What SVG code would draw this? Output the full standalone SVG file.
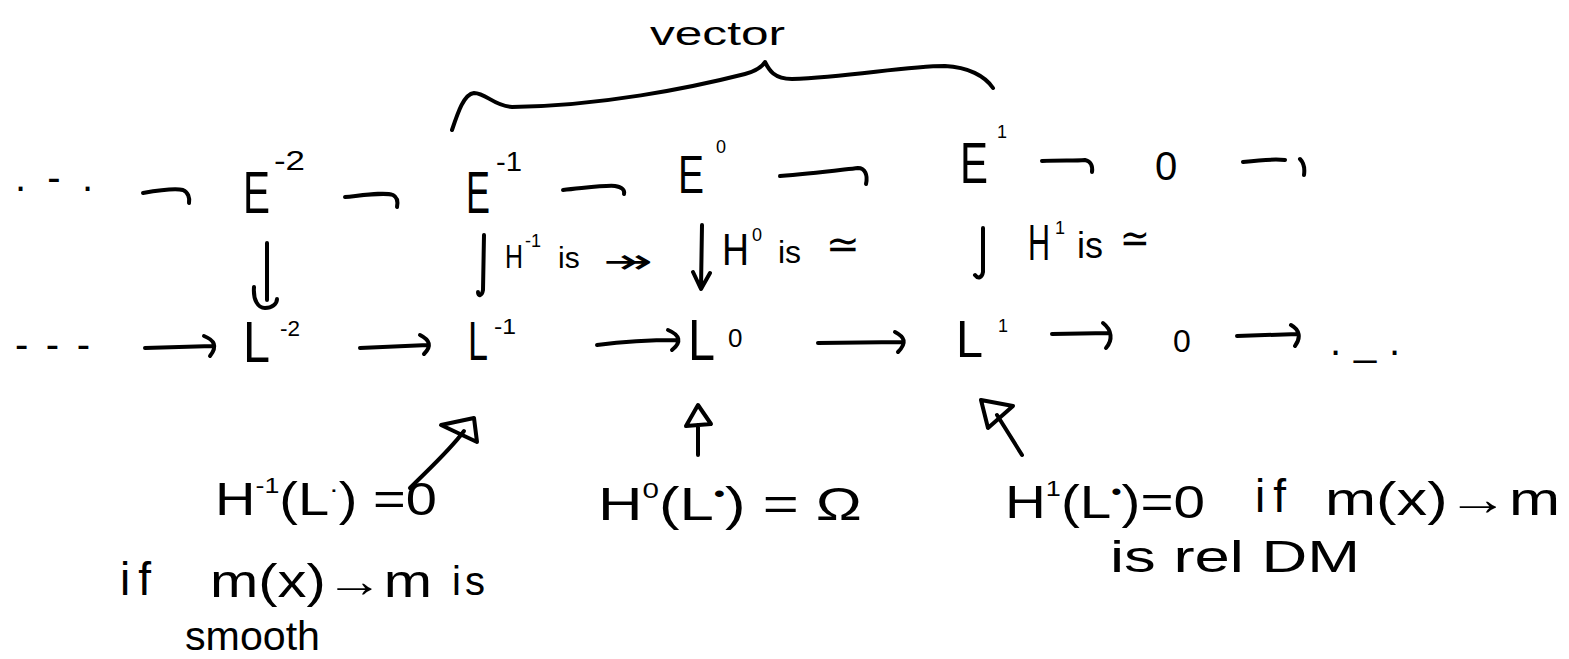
<svg xmlns="http://www.w3.org/2000/svg" width="1569" height="659" viewBox="0 0 1569 659">
<style>
.t{font-family:"Liberation Sans","DejaVu Sans",sans-serif;fill:#000}
.m{font-family:"DejaVu Sans","Liberation Sans",sans-serif;fill:#000}
.s{fill:none;stroke:#000;stroke-width:4;stroke-linecap:round;stroke-linejoin:round}
</style>
<rect width="1569" height="659" fill="#fff"/>
<g id="brace">
<text class="t" x="650" y="45" font-size="34" textLength="135" lengthAdjust="spacingAndGlyphs">vector</text>
<path class="s" d="M452 130 C458 112 464 94 474 93 C486 93 494 106 512 107 C600 106 690 88 745 74 C756 71 762 67 765 62 C769 70 774 79 792 79 C850 77 905 66 945 66 C968 67 985 76 993 88"/>
</g>
<g id="Edots"><text class="t" x="15" y="191" font-size="40" textLength="78" lengthAdjust="spacing">. - .</text></g>
<g id="Em2"><text class="t" x="243" y="213" font-size="60" textLength="27" lengthAdjust="spacingAndGlyphs">E</text><text class="t" x="274" y="170" font-size="28" textLength="31" lengthAdjust="spacingAndGlyphs">-2</text></g>
<g id="Em1"><text class="t" x="466" y="213" font-size="60" textLength="24" lengthAdjust="spacingAndGlyphs">E</text><text class="t" x="496" y="171" font-size="28" textLength="26" lengthAdjust="spacingAndGlyphs">-1</text></g>
<g id="E0"><text class="t" x="678" y="193" font-size="54" textLength="26" lengthAdjust="spacingAndGlyphs">E</text><text class="t" x="716" y="153" font-size="18">0</text></g>
<g id="E1"><text class="t" x="960" y="183" font-size="58" textLength="28" lengthAdjust="spacingAndGlyphs">E</text><text class="t" x="997" y="138" font-size="18">1</text></g>
<g id="Ezero"><text class="t" x="1155" y="180" font-size="40">0</text></g>
<g id="Ldots"><text class="t" x="15" y="358" font-size="40" textLength="75" lengthAdjust="spacing">- - -</text></g>
<g id="Lm2"><text class="t" x="243" y="362" font-size="58" textLength="27" lengthAdjust="spacingAndGlyphs">L</text><text class="t" x="280" y="336" font-size="22" textLength="20" lengthAdjust="spacingAndGlyphs">-2</text></g>
<g id="Lm1"><text class="t" x="468" y="360" font-size="56" textLength="20" lengthAdjust="spacingAndGlyphs">L</text><text class="t" x="494" y="334" font-size="22" textLength="22" lengthAdjust="spacingAndGlyphs">-1</text></g>
<g id="L0"><text class="t" x="688" y="360" font-size="58" textLength="27" lengthAdjust="spacingAndGlyphs">L</text><text class="t" x="728" y="347" font-size="26">0</text></g>
<g id="L1"><text class="t" x="956" y="357" font-size="52" textLength="27" lengthAdjust="spacingAndGlyphs">L</text><text class="t" x="998" y="332" font-size="18">1</text></g>
<g id="Lzero"><text class="t" x="1173" y="352" font-size="32">0</text></g>
<g id="Lend"><text class="t" x="1330" y="355" font-size="40" textLength="70" lengthAdjust="spacing">. _ .</text></g>
<g id="labels">
<text class="t" x="505" y="268" font-size="34" textLength="18" lengthAdjust="spacingAndGlyphs">H</text>
<text class="t" x="525" y="247" font-size="18">-1</text>
<text class="t" x="558" y="268" font-size="30">is</text>
<text class="m" x="603" y="273" font-size="34" textLength="50" lengthAdjust="spacingAndGlyphs">↠</text>
<text class="t" x="722" y="265" font-size="44" textLength="27" lengthAdjust="spacingAndGlyphs">H</text>
<text class="t" x="752" y="241" font-size="18">0</text>
<text class="t" x="778" y="263" font-size="32">is</text>
<text class="m" x="826" y="258" font-size="40" textLength="34" lengthAdjust="spacingAndGlyphs">≃</text>
<text class="t" x="1028" y="260" font-size="50" textLength="22" lengthAdjust="spacingAndGlyphs">H</text>
<text class="t" x="1055" y="234" font-size="18">1</text>
<text class="t" x="1077" y="258" font-size="36">is</text>
<text class="m" x="1120" y="252" font-size="40" textLength="30" lengthAdjust="spacingAndGlyphs">≃</text>
</g>
<g id="note-left">
<text class="t" x="215" y="515" font-size="46" textLength="222" lengthAdjust="spacingAndGlyphs">H<tspan font-size="22" dy="-22">-1</tspan><tspan dy="22">(L</tspan><tspan font-size="24" dy="-18">·</tspan><tspan dy="18">) =0</tspan></text>
<text class="t" x="120" y="595" font-size="46" letter-spacing="8">if</text>
<text class="t" x="210" y="597" font-size="46" textLength="222" lengthAdjust="spacingAndGlyphs">m(x)→m</text>
<text class="t" x="452" y="595" font-size="40" letter-spacing="4">is</text>
<text class="t" x="185" y="650" font-size="40" textLength="135" lengthAdjust="spacingAndGlyphs">smooth</text>
</g>
<g id="note-mid">
<text class="t" x="598" y="520" font-size="46" textLength="264" lengthAdjust="spacingAndGlyphs">H<tspan font-size="22" dy="-22">0</tspan><tspan dy="22">(L</tspan><tspan font-size="24" dy="-18">•</tspan><tspan dy="18">) = Ω</tspan></text>
</g>
<g id="note-right">
<text class="t" x="1005" y="518" font-size="46" textLength="200" lengthAdjust="spacingAndGlyphs">H<tspan font-size="22" dy="-22">1</tspan><tspan dy="22">(L</tspan><tspan font-size="24" dy="-18">•</tspan><tspan dy="18">)=0</tspan></text>
<text class="t" x="1255" y="512" font-size="46" letter-spacing="8">if</text>
<text class="t" x="1325" y="515" font-size="46" textLength="235" lengthAdjust="spacingAndGlyphs">m(x)→m</text>
<text class="t" x="1110" y="572" font-size="44" textLength="250" lengthAdjust="spacingAndGlyphs">is rel DM</text>
</g>
<g id="connectors">
<path class="s" d="M143 193 C160 190 175 188 183 190 C188 192 190 198 189 203"/>
<path class="s" d="M345 197 C365 195 385 192 393 195 C397 197 398 202 397 207"/>
<path class="s" d="M563 190 C585 188 605 185 615 186 C622 187 625 190 624 194"/>
<path class="s" d="M780 176 C810 174 840 170 858 168 C865 168 868 175 866 184"/>
<path class="s" d="M1042 161 C1060 160 1075 161 1085 160 C1090 161 1093 165 1092 172"/>
<path class="s" d="M1243 162 C1260 160 1275 159 1285 160 M1300 159 C1304 163 1305 168 1304 175"/>
<path class="s" d="M145 348 L213 346 M204 336 C214 340 218 346 210 356"/>
<path class="s" d="M360 348 L428 345 M420 335 C430 340 432 346 424 354"/>
<path class="s" d="M597 345 C620 342 650 340 677 340 M668 330 C680 335 682 342 672 350"/>
<path class="s" d="M818 343 L903 342 M895 332 C905 337 907 343 898 352"/>
<path class="s" d="M1052 334 L1110 333 M1103 323 C1112 330 1113 340 1106 348"/>
<path class="s" d="M1237 336 L1298 334 M1291 325 C1300 330 1301 338 1295 346"/>
<path class="s" d="M267 243 L267 300 M254 287 C253 300 258 308 265 308 C272 308 277 304 277 299"/>
<path class="s" d="M484 235 L483 290 C482 296 478 297 478 292"/>
<path class="s" d="M702 225 L701 288 M693 272 L701 289 L710 273"/>
<path class="s" d="M983 228 L983 272 C982 278 978 279 975 275"/>
<path class="s" d="M410 488 C430 468 450 450 464 431 M441 425 L474 418 L477 442 Z"/>
<path class="s" d="M698 455 L698 425 M686 426 L698 405 L711 424 Z"/>
<path class="s" d="M1022 455 L997 415 M981 400 L1013 406 L988 428 Z"/>
</g>
</svg>
